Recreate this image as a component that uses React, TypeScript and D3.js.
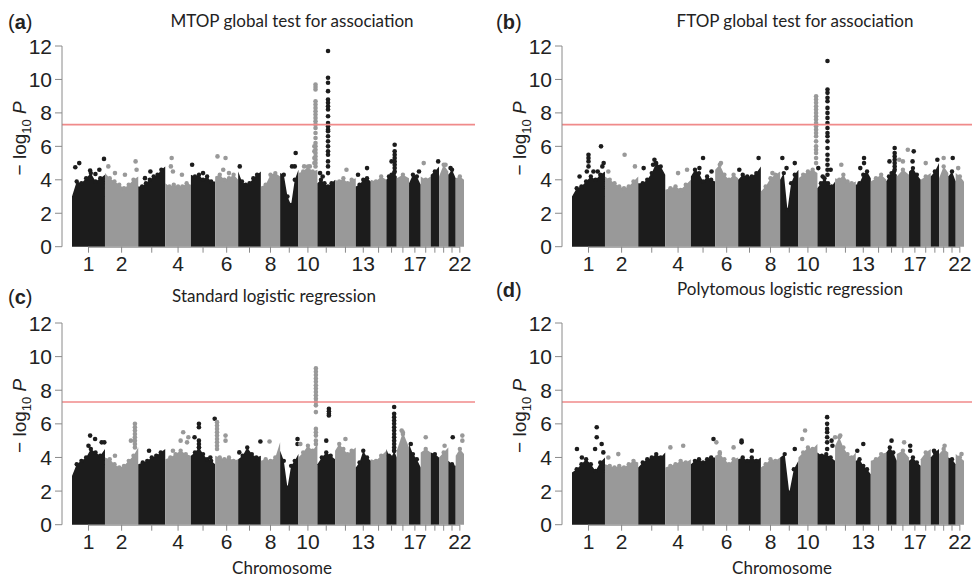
import * as d3 from "d3";

// chromosome order and their widths on the genome axis
const chromosomes = d3.range(1, 23).map(String);
const chrSpan = [33, 33.3, 27, 25.7, 24.3, 23, 22.7, 19.3, 18.3, 19, 17.7, 20.7, 15, 15.6, 10.4, 12.3, 11.7, 10, 8.3, 9.3, 7.4, 8.3];
const labelledChr = ["1", "2", "4", "6", "8", "10", "13", "17", "22"];
const yTicks = [0, 2, 4, 6, 8, 10, 12];
const sigLevel = 7.3;

// upper edge of the dense SNP cloud, evenly spread over each chromosome
const mtopCloud = [
  [3.0, 3.9, 3.8, 4.1, 4.4, 3.9, 4.1, 4.3],
  [4.4, 4.1, 3.9, 3.7, 3.5, 3.7, 4.0, 4.2],
  [3.6, 3.6, 3.8, 4.0, 4.2, 4.3, 4.6, 4.8],
  [3.8, 3.6, 3.7, 3.6, 3.6, 3.8, 3.7],
  [4.3, 4.2, 4.3, 4.0, 4.2, 3.9, 3.9],
  [4.2, 4.3, 4.0, 4.1, 4.3, 4.0],
  [4.5, 3.9, 3.7, 3.8, 4.1, 4.3, 4.5],
  [3.6, 3.7, 4.3, 4.4, 4.2],
  [4.4, 4.3, 3.0, 2.5, 4.0, 4.6],
  [4.4, 4.5, 4.8, 4.5, 4.6],
  [3.8, 4.0, 3.8, 3.6, 3.8, 4.0],
  [4.0, 3.9, 4.1, 3.8, 4.0, 4.1],
  [3.6, 3.7, 4.0, 4.1, 3.9],
  [4.0, 3.9, 4.2, 4.0],
  [4.0, 4.2, 4.3, 4.4, 4.2],
  [4.1, 4.3, 4.1],
  [3.8, 4.3, 4.2, 3.7],
  [4.2, 4.0, 4.2],
  [4.3, 4.5, 4.8],
  [4.2, 4.9, 4.5],
  [4.3, 4.6, 4.1],
  [4.1, 4.2, 4.0],
];
// single SNPs above the cloud: [chromosome, relative position, -log10 P]
const mtopHits = [
  [1, 0.1, 4.75], [1, 0.22, 5.0], [1, 0.55, 4.55], [1, 0.71, 4.35], [1, 0.83, 4.6], [1, 0.97, 5.25],
  [2, 0.1, 4.8], [2, 0.3, 4.4], [2, 0.6, 4.3], [2, 0.92, 5.1], [2, 0.95, 4.6],
  [3, 0.25, 4.1], [3, 0.45, 4.5],
  [4, 0.22, 4.8], [4, 0.25, 5.3], [4, 0.3, 4.5], [4, 0.65, 4.3],
  [5, 0.05, 4.9], [5, 0.5, 4.4],
  [6, 0.1, 5.4], [6, 0.35, 4.6], [6, 0.45, 5.3], [6, 0.6, 4.4],
  [7, 0.07, 4.8],
  [9, 0.65, 4.8], [9, 0.8, 4.8], [9, 0.85, 5.6],
  [10, 0.3, 4.8], [10, 0.6, 4.8],
  [11, 0.15, 4.4], [11, 0.3, 4.2],
  [12, 0.55, 4.6],
  [13, 0.15, 4.3], [13, 0.75, 4.7],
  [15, 0.5, 5.1],
  [17, 0.85, 4.5],
  [18, 0.3, 5.0],
  [19, 0.9, 5.1],
  [20, 0.7, 4.9],
  [21, 0.3, 4.7],
];
// stacked SNPs at one locus
const mtopColumns = [
  { chr: 10, at: 0.9, values: [9.7, 9.55, 9.4, 8.7, 8.5, 8.3, 8.1, 7.9, 7.7, 7.5, 7.3, 7.1, 6.8, 6.5, 6.2, 6.0, 5.8, 5.6, 5.4, 5.2, 5.0, 4.8] },
  { chr: 10, at: 0.84, values: [6.0, 5.7, 5.3, 5.0] },
  { chr: 11, at: 0.6, values: [11.7, 10.1, 9.8, 9.3, 8.8, 8.6, 8.4, 8.2, 7.8, 7.4, 7.2, 7.0, 6.9, 6.6, 6.3, 6.0, 5.7, 5.5, 5.1, 4.8, 4.4] },
  { chr: 15, at: 0.8, values: [6.1, 5.7, 5.5, 5.3, 5.1, 4.9, 4.7, 4.5] },
];

const ftopCloud = [
  [3.0, 3.5, 3.6, 3.9, 4.2, 4.0, 4.3, 4.5],
  [4.2, 4.0, 3.8, 3.6, 3.5, 3.6, 3.9, 4.2],
  [3.8, 3.8, 4.0, 4.4, 5.0, 4.8, 4.3],
  [3.4, 3.5, 3.6, 3.4, 3.7, 4.0],
  [4.2, 4.6, 4.4, 3.9, 4.2, 4.0, 3.9],
  [4.6, 4.9, 4.3, 4.0, 4.3, 4.1],
  [4.0, 4.3, 4.2, 4.2, 4.4, 4.8],
  [3.3, 3.6, 4.1, 4.3, 4.5],
  [4.0, 4.4, 2.2, 3.8, 4.3, 4.6],
  [4.1, 4.3, 4.5, 4.6, 4.4],
  [3.5, 3.8, 4.1, 3.8, 3.6, 3.9],
  [4.1, 4.0, 4.3, 3.9, 3.8, 3.9],
  [3.7, 3.8, 4.3, 4.5, 4.1],
  [3.9, 4.1, 4.3, 4.0],
  [3.9, 4.2, 4.4, 4.5, 4.3],
  [4.2, 4.6, 4.3],
  [4.5, 4.7, 4.3, 4.0],
  [4.0, 4.2, 4.4],
  [4.2, 4.5, 5.0],
  [4.1, 4.8, 4.4],
  [4.2, 4.5, 3.9],
  [4.4, 4.2, 3.9],
];
const ftopHits = [
  [1, 0.23, 4.2], [1, 0.45, 4.5], [1, 0.5, 4.8], [1, 0.5, 5.1], [1, 0.5, 5.3], [1, 0.5, 5.5], [1, 0.65, 4.5], [1, 0.78, 4.5], [1, 0.88, 6.0], [1, 0.92, 4.8], [1, 0.96, 5.0],
  [2, 0.1, 4.5], [2, 0.59, 5.5], [2, 0.9, 4.8],
  [3, 0.2, 4.7], [3, 0.55, 4.9], [3, 0.6, 5.2], [3, 0.65, 5.0],
  [4, 0.5, 4.4], [4, 0.85, 4.6],
  [5, 0.35, 4.7], [5, 0.5, 5.3], [5, 0.85, 4.5],
  [6, 0.25, 5.0],
  [7, 0.05, 4.6], [7, 0.9, 5.3],
  [8, 0.6, 4.4],
  [9, 0.12, 5.3], [9, 0.35, 4.7], [9, 0.8, 5.0],
  [11, 0.05, 4.7], [11, 0.3, 4.2], [11, 0.75, 4.6],
  [12, 0.3, 4.9],
  [13, 0.3, 4.7], [13, 0.55, 5.0], [13, 0.55, 5.3],
  [15, 0.3, 5.1],
  [16, 0.2, 5.2], [16, 0.5, 5.1], [16, 0.9, 5.8],
  [17, 0.3, 5.1], [17, 0.4, 5.7],
  [18, 0.5, 5.0],
  [19, 0.8, 5.2],
  [20, 0.5, 5.3],
  [21, 0.6, 5.3],
  [22, 0.3, 4.7],
];
const ftopColumns = [
  { chr: 10, at: 0.93, values: [9.0, 8.8, 8.6, 8.4, 8.2, 8.0, 7.8, 7.6, 7.4, 7.2, 7.0, 6.8, 6.6, 6.3, 6.0, 5.8, 5.6, 5.3, 5.0] },
  { chr: 11, at: 0.57, values: [11.1, 9.4, 9.2, 8.9, 8.7, 8.3, 8.0, 7.7, 7.4, 7.1, 6.8, 6.6, 6.3, 5.9, 5.5, 5.2, 4.9, 4.6, 4.3] },
  { chr: 15, at: 0.8, values: [5.9, 5.6, 5.4, 5.2, 5.0, 4.8, 4.6] },
];

const slrCloud = [
  [2.9, 3.6, 3.8, 4.0, 4.5, 4.3, 4.1, 4.5],
  [4.0, 3.9, 3.6, 3.4, 3.5, 3.8, 4.1, 4.6],
  [3.6, 3.7, 3.8, 4.0, 4.1, 4.3, 4.5],
  [3.9, 4.0, 4.2, 4.4, 4.2, 4.1],
  [4.1, 4.3, 4.6, 4.2, 3.9, 3.8, 3.6],
  [4.1, 4.0, 3.9, 4.0, 3.8, 3.9],
  [3.9, 4.1, 4.6, 4.2, 4.0, 4.1],
  [3.8, 3.9, 3.8, 4.0, 4.9],
  [4.4, 3.8, 2.2, 3.5, 3.8, 4.2],
  [4.0, 4.3, 4.7, 4.4, 4.8],
  [3.6, 4.0, 4.3, 4.1, 3.9],
  [4.4, 4.8, 4.5, 4.2, 4.4, 4.6],
  [3.4, 3.7, 4.4, 4.0, 3.8],
  [3.9, 3.8, 4.1, 4.4],
  [4.5, 4.1, 4.0, 4.4, 4.0],
  [4.4, 5.5, 4.6],
  [4.8, 4.2, 3.9, 3.4],
  [4.3, 4.5, 4.3],
  [4.3, 4.2, 4.0],
  [4.0, 4.3, 4.6],
  [3.8, 3.6, 3.5],
  [4.1, 4.5, 4.2],
];
const slrHits = [
  [1, 0.5, 4.7], [1, 0.55, 5.3], [1, 0.7, 5.1], [1, 0.9, 4.9], [1, 0.98, 4.9],
  [2, 0.3, 4.1], [2, 0.78, 5.0],
  [3, 0.4, 4.4],
  [4, 0.3, 4.4], [4, 0.6, 5.0], [4, 0.7, 5.5], [4, 0.85, 4.9], [4, 0.9, 5.2],
  [5, 0.15, 5.2], [5, 0.8, 4.0], [5, 0.98, 6.3],
  [6, 0.45, 5.0], [6, 0.45, 5.3],
  [7, 0.05, 4.3], [7, 0.98, 4.95],
  [8, 0.45, 4.95],
  [9, 0.95, 4.8], [9, 0.95, 5.1],
  [10, 0.1, 4.8],
  [11, 0.5, 5.0],
  [12, 0.5, 5.1],
  [16, 0.4, 5.6], [16, 0.5, 5.4],
  [17, 0.15, 4.8],
  [18, 0.5, 5.2],
  [20, 0.6, 4.7],
  [21, 0.6, 5.2],
  [22, 0.8, 5.0], [22, 0.8, 5.3],
];
const slrColumns = [
  { chr: 2, at: 0.9, values: [6.0, 5.8, 5.6, 5.4, 5.2, 5.0, 4.8, 4.6] },
  { chr: 5, at: 0.33, values: [6.0, 5.8, 5.0, 4.8, 4.6] },
  { chr: 6, at: 0.08, values: [6.1, 5.9, 5.7, 5.5, 5.3, 5.1, 4.9, 4.7, 4.5] },
  { chr: 10, at: 0.92, values: [9.3, 9.1, 8.9, 8.7, 8.5, 8.3, 8.1, 7.9, 7.7, 7.5, 7.3, 7.1, 6.7, 5.7, 5.5, 5.3, 5.0, 4.8] },
  { chr: 11, at: 0.65, values: [6.9, 6.75, 6.6, 6.5] },
  { chr: 15, at: 0.75, values: [7.0, 6.6, 6.4, 6.2, 6.0, 5.8, 5.6, 5.4, 5.2, 5.0, 4.8, 4.6, 4.4] },
];

const pollrCloud = [
  [3.1, 3.3, 3.6, 3.9, 3.6, 3.2, 3.7, 4.0],
  [3.6, 3.5, 3.4, 3.5, 3.4, 3.6, 3.8, 3.7],
  [3.4, 3.7, 3.9, 4.0, 4.2, 4.0, 4.3],
  [3.4, 3.5, 3.6, 3.8, 3.7, 3.9],
  [3.6, 3.8, 3.9, 3.7, 3.9, 4.0, 4.0],
  [4.1, 4.2, 3.9, 3.6, 3.9, 4.0],
  [3.9, 4.0, 3.8, 4.0, 3.8, 4.0],
  [3.4, 3.6, 3.9, 3.8, 4.0],
  [4.0, 4.2, 1.9, 3.3, 3.8],
  [4.0, 4.3, 4.6, 4.5, 4.8],
  [4.3, 4.1, 4.2, 4.0, 3.8],
  [4.7, 5.2, 4.6, 4.2, 4.0, 4.3],
  [3.8, 3.9, 3.5, 3.3, 3.0],
  [3.8, 3.9, 4.2, 4.3],
  [4.3, 4.6, 4.3, 3.8],
  [4.2, 4.4, 4.0],
  [3.8, 4.0, 3.7, 3.5],
  [3.9, 4.3, 4.5],
  [4.0, 4.3, 4.5],
  [4.2, 4.5, 4.3],
  [4.0, 3.9, 3.6],
  [4.2, 4.0, 3.8],
];
const pollrHits = [
  [1, 0.15, 4.5], [1, 0.3, 4.0], [1, 0.7, 4.5], [1, 0.9, 4.8], [1, 0.95, 4.3],
  [2, 0.1, 4.0], [2, 0.4, 4.2],
  [4, 0.2, 4.6], [4, 0.7, 4.7],
  [5, 0.93, 5.1],
  [6, 0.05, 4.9], [6, 0.2, 4.3], [6, 0.8, 4.6],
  [7, 0.15, 4.9], [7, 0.15, 5.0], [7, 0.6, 4.4],
  [9, 0.8, 4.5],
  [10, 0.2, 5.1], [10, 0.35, 5.6],
  [11, 0.8, 5.0], [11, 0.85, 4.7],
  [12, 0.0, 5.2], [12, 0.25, 5.3],
  [13, 0.1, 4.4], [13, 0.5, 4.8],
  [15, 0.5, 5.0],
  [16, 0.6, 4.9],
  [17, 0.1, 4.4], [17, 0.1, 4.7],
  [19, 0.4, 4.4],
  [20, 0.6, 4.7],
  [22, 0.7, 4.2],
];
const pollrColumns = [
  { chr: 1, at: 0.75, values: [5.8, 5.2] },
  { chr: 11, at: 0.55, values: [6.4, 6.0, 5.7, 5.5, 5.2, 4.9, 4.5] },
];

const panels = [
  { tag: "a", title: "MTOP global test for association", axisX: 62, y0: 246.7, y12: 46, titleX: 292, titleY: 27, lineEnd: 475, cloud: mtopCloud, hits: mtopHits, columns: mtopColumns, xlab: false },
  { tag: "b", title: "FTOP global test for association", axisX: 562, y0: 246.7, y12: 46, titleX: 795, titleY: 27, lineEnd: 972, cloud: ftopCloud, hits: ftopHits, columns: ftopColumns, xlab: false },
  { tag: "c", title: "Standard logistic regression", axisX: 62, y0: 524.7, y12: 323, titleX: 274, titleY: 302, lineEnd: 475, cloud: slrCloud, hits: slrHits, columns: slrColumns, xlab: true },
  { tag: "d", title: "Polytomous logistic regression", axisX: 562, y0: 524.7, y12: 323, titleX: 790, titleY: 295, lineEnd: 972, cloud: pollrCloud, hits: pollrHits, columns: pollrColumns, xlab: true },
];

const BLACK = "#1c1c1c";
const GREY = "#999999";
const tickFont = "'Liberation Sans', Arial, Helvetica, sans-serif";
const titleFont = "Lato, 'Open Sans', sans-serif";

const chrStart: number[] = [];
chrSpan.reduce((acc, w, i) => {
  chrStart[i] = acc;
  return acc + w;
}, 0);
const totalSpan = d3.sum(chrSpan);
const chrColor = (i: number) => (i % 2 === 0 ? BLACK : GREY);

function Panel({ p }) {
  const x = d3.scaleLinear().domain([0, totalSpan]).range([p.axisX + 10, p.axisX + 402]);
  const y = d3.scaleLinear().domain([0, 12]).range([p.y0, p.y12]);
  const area = d3
    .area<[number, number]>()
    .x((d) => x(d[0]))
    .y0(y(0))
    .y1((d) => y(d[1]));

  const pos = (chr: number, frac: number) => chrStart[chr - 1] + chrSpan[chr - 1] * frac;
  const midY = (y(0) + y(12)) / 2;

  return (
    <g>
      {/* dense cloud per chromosome, with points on its ragged top */}
      {p.cloud.map((vals: number[], i: number) => {
        const pts: [number, number][] = vals.map((v, k) => [
          chrStart[i] + (chrSpan[i] * k) / (vals.length - 1),
          v,
        ]);
        return (
          <g key={i} fill={chrColor(i)}>
            <path d={area(pts) || ""} />
            {pts.slice(1, -1).map((d, k) => (
              <circle key={k} cx={x(d[0])} cy={y(d[1])} r={2.2} />
            ))}
          </g>
        );
      })}

      {/* isolated SNPs */}
      {p.hits.map(([chr, frac, v], k) => (
        <circle key={"h" + k} cx={x(pos(chr, frac))} cy={y(v)} r={2.3} fill={chrColor(chr - 1)} />
      ))}
      {p.columns.map((c, j) =>
        c.values.map((v: number, k: number) => (
          <circle key={j + "-" + k} cx={x(pos(c.chr, c.at))} cy={y(v)} r={2.3} fill={chrColor(c.chr - 1)} />
        )),
      )}

      {/* genome-wide significance */}
      <line x1={p.axisX} x2={p.lineEnd} y1={y(sigLevel)} y2={y(sigLevel)} stroke="#f08a8a" strokeWidth={1.6} />

      {/* y axis */}
      <line x1={p.axisX} x2={p.axisX} y1={y(0)} y2={y(12)} stroke="#8a8a8a" strokeWidth={1} />
      {yTicks.map((t) => (
        <g key={t}>
          <line x1={p.axisX - 7} x2={p.axisX} y1={y(t)} y2={y(t)} stroke="#8a8a8a" strokeWidth={1} />
          <text x={p.axisX - 10} y={y(t)} dy="0.36em" textAnchor="end" fontSize={21} fontFamily={tickFont} fill="#222">
            {t}
          </text>
        </g>
      ))}
      <text
        transform={`translate(${p.axisX - 36},${midY - 8}) rotate(-90)`}
        textAnchor="middle"
        fontSize={19}
        fontFamily={tickFont}
        fill="#222"
      >
        <tspan>− log</tspan>
        <tspan dy={5} fontSize={13}>10</tspan>
        <tspan dy={-5} fontStyle="italic"> P</tspan>
      </text>

      {/* x axis */}
      <line
        x1={x(chrStart[0] + chrSpan[0] / 2)}
        x2={x(chrStart[21] + chrSpan[21] / 2)}
        y1={y(0) + 0.5}
        y2={y(0) + 0.5}
        stroke="#8a8a8a"
        strokeWidth={1}
      />
      {chromosomes.map((c, i) => {
        const cx = x(chrStart[i] + chrSpan[i] / 2);
        return (
          <g key={c}>
            <line x1={cx} x2={cx} y1={y(0)} y2={y(0) + 6} stroke="#8a8a8a" strokeWidth={1} />
            {labelledChr.includes(c) && (
              <text x={cx} y={y(0) + 24.5} textAnchor="middle" fontSize={21} fontFamily={tickFont} fill="#222">
                {c}
              </text>
            )}
          </g>
        );
      })}

      {/* titles */}
      <text x={p.titleX} y={p.titleY} textAnchor="middle" fontSize={17} fontFamily={titleFont} fill="#222">
        {p.title}
      </text>
      <text x={p.axisX < 300 ? 8 : 496} y={p.titleY + 2} fontSize={20} fontFamily={tickFont} fill="#222">
        (<tspan fontWeight="bold">{p.tag}</tspan>)
      </text>
      {p.xlab && (
        <text x={p.axisX + 220} y={574} textAnchor="middle" fontSize={17} fontFamily={titleFont} fill="#222">
          Chromosome
        </text>
      )}
    </g>
  );
}

export default function App() {
  return (
    <svg
      width={972}
      height={577}
      style={{ position: "absolute", left: 0, top: 0, background: "#fff" }}
    >
      {panels.map((p) => (
        <Panel key={p.tag} p={p} />
      ))}
    </svg>
  );
}
